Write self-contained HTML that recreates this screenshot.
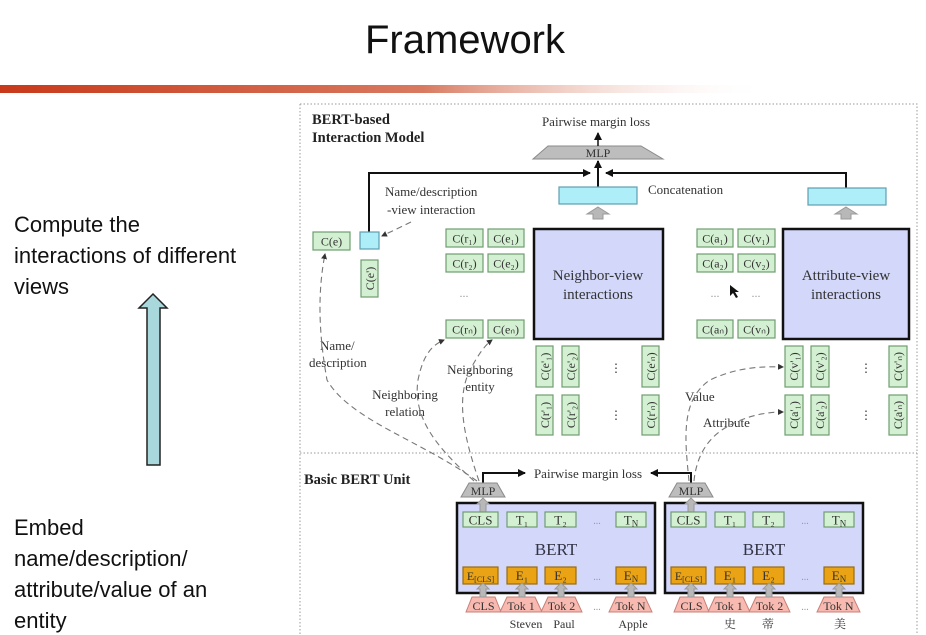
<!DOCTYPE html>
<html><head><meta charset="utf-8"><style>
html,body{margin:0;padding:0;background:#fff;width:926px;height:635px;overflow:hidden}
svg{display:block}
.s{font-family:"Liberation Serif","Noto Serif CJK SC",serif;fill:#333}
.a{font-family:"Liberation Sans",sans-serif;fill:#111}
.g{fill:#d4f0d2;stroke:#6f9c70;stroke-width:1.2}
.c{fill:#aeeef8;stroke:#5f9fb0;stroke-width:1.2}
.o{fill:#e9a314;stroke:#9a6a10;stroke-width:1.2}
.p{fill:#f8b9b0;stroke:#c88078;stroke-width:1}
.m{fill:#bdbdbd;stroke:#8a8a8a;stroke-width:1}
.d{fill:none;stroke:#777;stroke-width:1.1;stroke-dasharray:6,4}
</style></head><body>
<svg width="926" height="635" viewBox="0 0 926 635" xmlns="http://www.w3.org/2000/svg">
<defs>
<linearGradient id="bar" x1="0" x2="1"><stop offset="0" stop-color="#c8391a"/><stop offset="0.55" stop-color="#d87a60"/><stop offset="1" stop-color="#fff" stop-opacity="0"/></linearGradient>
<marker id="ar" markerWidth="8" markerHeight="8" refX="7" refY="4" orient="auto" markerUnits="userSpaceOnUse"><path d="M0,0 L8,4 L0,8 z" fill="#111"/></marker>
<marker id="ad" markerWidth="6" markerHeight="6" refX="5" refY="3" orient="auto" markerUnits="userSpaceOnUse"><path d="M0,0 L6,3 L0,6 z" fill="#333"/></marker>
</defs>
<text x="465" y="53" text-anchor="middle" class="a" font-size="40">Framework</text>
<rect x="0" y="85" width="770" height="8" fill="url(#bar)"/>
<g class="a" font-size="22">
<text x="14" y="232">Compute the</text><text x="14" y="263">interactions of different</text><text x="14" y="294">views</text>
<text x="14" y="535">Embed</text><text x="14" y="566">name/description/</text><text x="14" y="597">attribute/value of an</text><text x="14" y="628">entity</text>
</g>
<path d="M153,294 L167,308 L160,308 L160,465 L147,465 L147,308 L139,308 Z" fill="#a8d8dc" stroke="#222" stroke-width="1.5"/>
<!-- outer dotted -->
<path d="M300,104 L917,104 L917,635 M300,104 L300,635 M300,453 L917,453" fill="none" stroke="#999" stroke-width="1" stroke-dasharray="1.5,2"/>
<!-- top section -->
<g class="s" font-weight="bold" font-size="14.5" style="fill:#222"><text x="312" y="124">BERT-based</text><text x="312" y="142">Interaction Model</text></g>
<text x="596" y="126" text-anchor="middle" class="s" font-size="13">Pairwise margin loss</text>
<path d="M533,159 L548,146 L641,146 L663,159 Z" class="m"/>
<text x="598" y="157" text-anchor="middle" class="s" font-size="12">MLP</text>
<line x1="598" y1="146" x2="598" y2="133" stroke="#111" stroke-width="1.5" marker-end="url(#ar)"/>
<path d="M369,232 L369,173 L590,173" fill="none" stroke="#111" stroke-width="2" marker-end="url(#ar)"/>
<path d="M846,188 L846,173 L606,173" fill="none" stroke="#111" stroke-width="2" marker-end="url(#ar)"/>
<line x1="598" y1="187" x2="598" y2="161" stroke="#111" stroke-width="2" marker-end="url(#ar)"/>
<rect x="559" y="187" width="78" height="17" class="c"/>
<rect x="808" y="188" width="78" height="17" class="c"/>
<text x="648" y="194" class="s" font-size="13">Concatenation</text>
<path d="M598,207 L609,214 L603,214 L603,219 L593,219 L593,214 L587,214 Z" fill="#b8b8b8" stroke="#999"/>
<path d="M846,207 L857,214 L851,214 L851,219 L841,219 L841,214 L835,214 Z" fill="#b8b8b8" stroke="#999"/>
<g class="s" font-size="13"><text x="385" y="196">Name/description</text><text x="387" y="214">-view interaction</text></g>
<path d="M411,222 L382,236" class="d" stroke-dasharray="2,2" marker-end="url(#ad)"/>
<rect x="313" y="232" width="37" height="18" class="g"/><text x="331.5" y="245.5" text-anchor="middle" class="s" font-size="12">C(e)</text>
<rect x="360" y="232" width="19" height="17" class="c"/>
<rect x="361" y="260" width="17" height="37" class="g"/><text transform="translate(374,278.5) rotate(-90)" text-anchor="middle" class="s" font-size="12">C(e')</text>
<!-- neighbor grid -->
<g class="s" font-size="12" text-anchor="middle">
<rect x="446" y="229" width="37" height="18" class="g"/><text x="464.5" y="242.5">C(r₁)</text>
<rect x="488" y="229" width="36" height="18" class="g"/><text x="506" y="242.5">C(e₁)</text>
<rect x="446" y="254" width="37" height="18" class="g"/><text x="464.5" y="267.5">C(r₂)</text>
<rect x="488" y="254" width="36" height="18" class="g"/><text x="506" y="267.5">C(e₂)</text>
<text x="464" y="297" fill="#999">...</text>
<rect x="446" y="320" width="37" height="18" class="g"/><text x="464.5" y="333.5">C(rₙ)</text>
<rect x="488" y="320" width="36" height="18" class="g"/><text x="506" y="333.5">C(eₙ)</text>
<rect x="697" y="229" width="36" height="18" class="g"/><text x="715" y="242.5">C(a₁)</text>
<rect x="738" y="229" width="37" height="18" class="g"/><text x="756.5" y="242.5">C(v₁)</text>
<rect x="697" y="254" width="36" height="18" class="g"/><text x="715" y="267.5">C(a₂)</text>
<rect x="738" y="254" width="37" height="18" class="g"/><text x="756.5" y="267.5">C(v₂)</text>
<text x="715" y="297" fill="#999">...</text><text x="756" y="297" fill="#999">...</text>
<rect x="697" y="320" width="36" height="18" class="g"/><text x="715" y="333.5">C(aₙ)</text>
<rect x="738" y="320" width="37" height="18" class="g"/><text x="756.5" y="333.5">C(vₙ)</text>
</g>
<path d="M730,285 L730,296 L733,293 L736,298 L738,297 L735,292 L739,292 Z" fill="#111"/>
<rect x="534" y="229" width="129" height="110" fill="#d3d8fb" stroke="#111" stroke-width="2.5"/>
<g class="s" font-size="15" text-anchor="middle" style="fill:#333"><text x="598" y="280">Neighbor-view</text><text x="598" y="299">interactions</text></g>
<rect x="783" y="229" width="126" height="110" fill="#d3d8fb" stroke="#111" stroke-width="2.5"/>
<g class="s" font-size="15" text-anchor="middle" style="fill:#333"><text x="846" y="280">Attribute-view</text><text x="846" y="299">interactions</text></g>
<!-- vertical boxes -->
<g class="s" font-size="12" text-anchor="middle">
<rect x="536" y="346" width="17" height="41" class="g"/><text transform="translate(549,366.5) rotate(-90)">C(e'₁)</text>
<rect x="562" y="346" width="17" height="41" class="g"/><text transform="translate(575,366.5) rotate(-90)">C(e'₂)</text>
<rect x="642" y="346" width="17" height="41" class="g"/><text transform="translate(655,366.5) rotate(-90)">C(e'ₙ)</text>
<rect x="536" y="395" width="17" height="40" class="g"/><text transform="translate(549,415) rotate(-90)">C(r'₁)</text>
<rect x="562" y="395" width="17" height="40" class="g"/><text transform="translate(575,415) rotate(-90)">C(r'₂)</text>
<rect x="642" y="395" width="17" height="40" class="g"/><text transform="translate(655,415) rotate(-90)">C(r'ₙ)</text>
<rect x="785" y="346" width="18" height="41" class="g"/><text transform="translate(798,366.5) rotate(-90)">C(v'₁)</text>
<rect x="811" y="346" width="18" height="41" class="g"/><text transform="translate(824,366.5) rotate(-90)">C(v'₂)</text>
<rect x="889" y="346" width="18" height="41" class="g"/><text transform="translate(902,366.5) rotate(-90)">C(v'ₙ)</text>
<rect x="785" y="395" width="18" height="40" class="g"/><text transform="translate(798,415) rotate(-90)">C(a'₁)</text>
<rect x="811" y="395" width="18" height="40" class="g"/><text transform="translate(824,415) rotate(-90)">C(a'₂)</text>
<rect x="889" y="395" width="18" height="40" class="g"/><text transform="translate(902,415) rotate(-90)">C(a'ₙ)</text>
</g>
<g fill="#888" font-size="12" class="s"><text x="610" y="372">⋮</text><text x="610" y="419">⋮</text><text x="860" y="372">⋮</text><text x="860" y="419">⋮</text></g>
<g class="s" font-size="13" style="fill:#333">
<text x="320" y="350">Name/</text><text x="309" y="367">description</text>
<text x="405" y="399" text-anchor="middle">Neighboring</text><text x="405" y="416" text-anchor="middle">relation</text>
<text x="480" y="374" text-anchor="middle">Neighboring</text><text x="480" y="391" text-anchor="middle">entity</text>
<text x="685" y="401">Value</text><text x="703" y="427">Attribute</text>
</g>
<!-- dashed curves -->
<path d="M477,481 C420,440 350,420 327,380 C318,330 318,290 325,254" class="d" marker-end="url(#ad)"/>
<path d="M474,481 C440,450 412,420 418,380 C423,355 432,345 444,340" class="d" marker-end="url(#ad)"/>
<path d="M479,481 C465,440 455,400 470,370 C478,355 485,345 492,340" class="d" marker-end="url(#ad)"/>
<path d="M689,481 C685,440 680,400 710,380 C735,368 760,366 783,367" class="d" marker-end="url(#ad)"/>
<path d="M694,481 C696,460 705,440 725,428 C745,416 765,412 783,412" class="d" marker-end="url(#ad)"/>
<!-- bottom -->
<text x="304" y="484" class="s" font-weight="bold" font-size="14.5" style="fill:#222">Basic BERT Unit</text>
<text x="588" y="478" text-anchor="middle" class="s" font-size="13">Pairwise margin loss</text>
<path d="M483,483 L483,473 L525,473" fill="none" stroke="#111" stroke-width="2" marker-end="url(#ar)"/>
<path d="M691,483 L691,473 L651,473" fill="none" stroke="#111" stroke-width="2" marker-end="url(#ar)"/>
<g id="bu">
<path d="M461,497 L469,483 L497,483 L505,497 Z" class="m"/>
<text x="483" y="495" text-anchor="middle" class="s" font-size="12">MLP</text>
<rect x="457" y="503" width="198" height="90" fill="#d3d8fb" stroke="#111" stroke-width="2.5"/>
<path d="M483,498 L489,504 L486,504 L486,512 L480,512 L480,504 L477,504 Z" fill="#b8b8b8" stroke="#999"/>
<g class="s" font-size="13" text-anchor="middle">
<rect x="463" y="512" width="35" height="15" class="g"/><text x="480.5" y="524.5">CLS</text>
<rect x="507" y="512" width="30" height="15" class="g"/><text x="522" y="524.5">T₁</text>
<rect x="545" y="512" width="31" height="15" class="g"/><text x="560.5" y="524.5">T₂</text>
<text x="597" y="524" fill="#999" font-size="10">...</text>
<rect x="616" y="512" width="30" height="15" class="g"/><text x="631" y="524.5">T<tspan font-size="9" dy="2">N</tspan></text>
<text x="556" y="555" font-size="17" style="fill:#334">BERT</text>
<rect x="463" y="567" width="35" height="17" class="o"/><text x="480.5" y="580" font-size="12">E<tspan font-size="8" dy="2">[CLS]</tspan></text>
<rect x="507" y="567" width="30" height="17" class="o"/><text x="522" y="580">E₁</text>
<rect x="545" y="567" width="31" height="17" class="o"/><text x="560.5" y="580">E₂</text>
<text x="597" y="580" fill="#999" font-size="10">...</text>
<rect x="616" y="567" width="30" height="17" class="o"/><text x="631" y="580">E<tspan font-size="9" dy="2">N</tspan></text>
<path d="M466,612 L472,597 L495,597 L501,612 Z" class="p"/><text x="483.5" y="610" font-size="12">CLS</text>
<path d="M500,612 L507,597 L535,597 L542,612 Z" class="p"/><text x="521" y="610" font-size="12">Tok 1</text>
<path d="M541,612 L548,597 L575,597 L582,612 Z" class="p"/><text x="561.5" y="610" font-size="12">Tok 2</text>
<text x="597" y="610" fill="#999" font-size="10">...</text>
<path d="M609,612 L616,597 L645,597 L652,612 Z" class="p"/><text x="630.5" y="610" font-size="12">Tok N</text>
</g>
<g fill="#b8b8b8" stroke="#999">
<path d="M483,583 L489,589 L486,589 L486,597 L480,597 L480,589 L477,589 Z"/>
<path d="M522,583 L528,589 L525,589 L525,597 L519,597 L519,589 L516,589 Z"/>
<path d="M561,583 L567,589 L564,589 L564,597 L558,597 L558,589 L555,589 Z"/>
<path d="M631,583 L637,589 L634,589 L634,597 L628,597 L628,589 L625,589 Z"/>
</g>
</g>
<use href="#bu" transform="translate(208,0)"/>
<g class="s" font-size="12" text-anchor="middle" style="fill:#333">
<text x="526" y="628">Steven</text><text x="564" y="628">Paul</text><text x="633" y="628">Apple</text>
<text x="730" y="628">史</text><text x="768" y="628">蒂</text><text x="840" y="628">美</text>
</g>
</svg>
</body></html>
